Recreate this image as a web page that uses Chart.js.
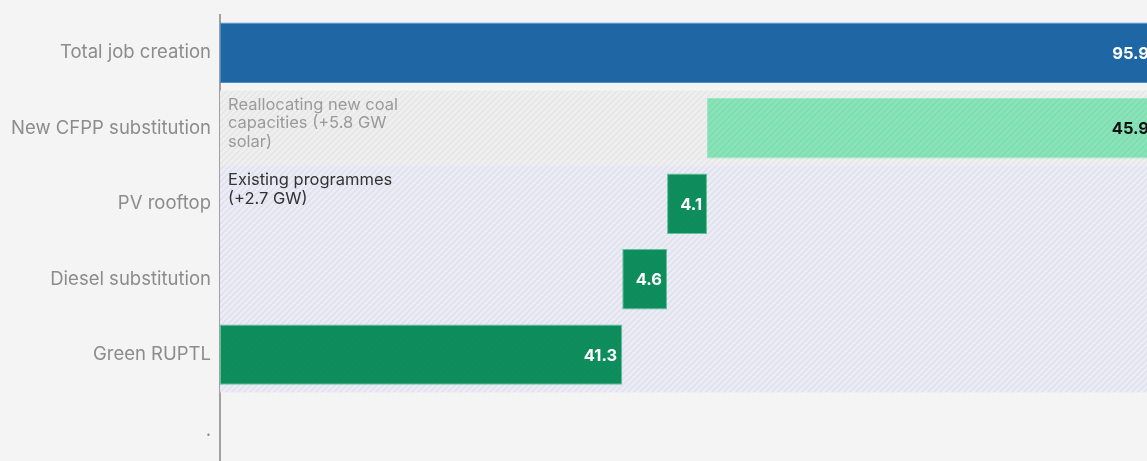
<!DOCTYPE html>
<html>
<head>
<meta charset="utf-8">
<script src="https://cdn.jsdelivr.net/npm/chart.js@4.4.1/dist/chart.umd.min.js"></script>
<style>
  html, body { margin: 0; padding: 0; background: #f4f4f4; overflow: hidden; }
  #wrap { width: 1194px; height: 480px; }
</style>
</head>
<body>
<div id="wrap"><canvas id="jobs-chart" width="1194" height="480"></canvas></div>
<script>
// job creation by measure (thousand jobs)
var categories = ["Total job creation", "New CFPP substitution", "PV rooftop", "Diesel substitution", "Green RUPTL", "."];
var jobs = [95.9, 45.9, 4.1, 4.6, 41.3];
var notes = [
  null,
  ["Reallocating new coal", "capacities (+5.8 GW", "solar)"],
  ["Existing programmes", "(+2.7 GW)"]
];

// waterfall: components stack up from the bottom row, total starts at zero
var ranges = [[0, jobs[0]]];
var base = 0;
var steps = [];
for (var i = jobs.length - 1; i >= 1; i--) {
  steps[i] = [base, Math.round((base + jobs[i]) * 10) / 10];
  base = steps[i][1];
}
for (var j = 1; j < jobs.length; j++) ranges.push(steps[j]);

var barColors = ["#1f67a4", "#87e4b9", "#0c8f58", "#0c8f58", "#0c8f58"];
var edgeColors = ["#4a8dc6", "#9eeac6", "#5cc79a", "#5cc79a", "#5cc79a"];
var valueColors = ["#ffffff", "#111111", "#ffffff", "#ffffff", "#ffffff"];
var noteColors = [null, "#9a9a9a", "#333333"];

function hatch(line) {
  var c = document.createElement('canvas');
  c.width = 6; c.height = 6;
  var g = c.getContext('2d');
  g.strokeStyle = line;
  g.lineWidth = 1.6;
  g.beginPath();
  g.moveTo(0, 6); g.lineTo(6, 0);
  g.moveTo(-1, 1); g.lineTo(1, -1);
  g.moveTo(5, 7); g.lineTo(7, 5);
  g.stroke();
  return g.createPattern(c, 'repeat');
}

var bands = [
  { from: 1, to: 1, fill: "#efefef", line: hatch("rgba(0,0,0,0.035)") },
  { from: 2, to: 4, fill: "#ececf4", line: hatch("rgba(90,90,210,0.08)") }
];

function bandRect(chart, b) {
  var y = chart.scales.y, x = chart.scales.x;
  var step = (y.bottom - y.top) / categories.length;
  var top = y.getPixelForValue(b.from) - step / 2;
  var bottom = y.getPixelForValue(b.to) + step / 2;
  var left = x.getPixelForValue(0);
  return { x: left, y: top, w: chart.chartArea.right - left, h: bottom - top };
}

var bandPlugin = {
  id: 'bands',
  beforeDatasetsDraw: function (chart) {
    var ctx = chart.ctx;
    ctx.save();
    bands.forEach(function (b) {
      var r = bandRect(chart, b);
      ctx.fillStyle = b.fill;
      ctx.fillRect(r.x, r.y, r.w, r.h);
    });
    ctx.restore();
  },
  afterDatasetsDraw: function (chart) {
    var ctx = chart.ctx;
    var area = chart.chartArea;
    ctx.save();
    ctx.beginPath();
    ctx.rect(area.left, area.top, area.right - area.left, area.bottom - area.top);
    ctx.clip();
    bands.forEach(function (b) {
      var r = bandRect(chart, b);
      ctx.fillStyle = b.line;
      ctx.fillRect(r.x, r.y, r.w, r.h);
    });

    // value labels at the end of each bar
    var meta = chart.getDatasetMeta(0);
    ctx.font = "bold 16.5px Inter, 'Noto Sans', sans-serif";
    ctx.textAlign = 'right';
    ctx.textBaseline = 'middle';
    meta.data.forEach(function (bar, k) {
      if (jobs[k] == null) return;
      ctx.fillStyle = valueColors[k];
      ctx.fillText(jobs[k].toFixed(1), bar.x - 5, bar.y + 1);
    });

    // notes in the top left of their rows
    var y = chart.scales.y;
    var step = (y.bottom - y.top) / categories.length;
    ctx.font = "16.5px Inter, 'Noto Sans', sans-serif";
    ctx.textAlign = 'left';
    ctx.textBaseline = 'top';
    notes.forEach(function (lines, k) {
      if (!lines) return;
      var top = y.getPixelForValue(k) - step / 2 + 6;
      ctx.fillStyle = noteColors[k];
      lines.forEach(function (t, n) {
        ctx.fillText(t, area.left + 8, top + n * 18.5);
      });
    });
    ctx.restore();
  }
};

new Chart(document.getElementById("jobs-chart"), {
  type: 'bar',
  data: {
    labels: categories,
    datasets: [{
      data: ranges,
      backgroundColor: barColors,
      borderColor: edgeColors,
      borderWidth: 1,
      borderSkipped: false,
      barPercentage: 0.8,
      categoryPercentage: 1
    }]
  },
  options: {
    indexAxis: 'y',
    responsive: false,
    animation: false,
    layout: { padding: { top: 15, right: 0, bottom: 0, left: 0 } },
    plugins: {
      legend: { display: false },
      tooltip: { enabled: false }
    },
    scales: {
      x: {
        min: 0,
        max: 100,
        display: false
      },
      y: {
        grid: { display: false },
        border: { display: true, color: '#a0a0a0', width: 2 },
        ticks: {
          color: '#8c8c8c',
          padding: 1,
          font: { family: "Inter, 'Noto Sans', sans-serif", size: 18.5 }
        },
        afterFit: function (scale) { scale.width = 220; }
      }
    }
  },
  plugins: [bandPlugin]
});
</script>
</body>
</html>
